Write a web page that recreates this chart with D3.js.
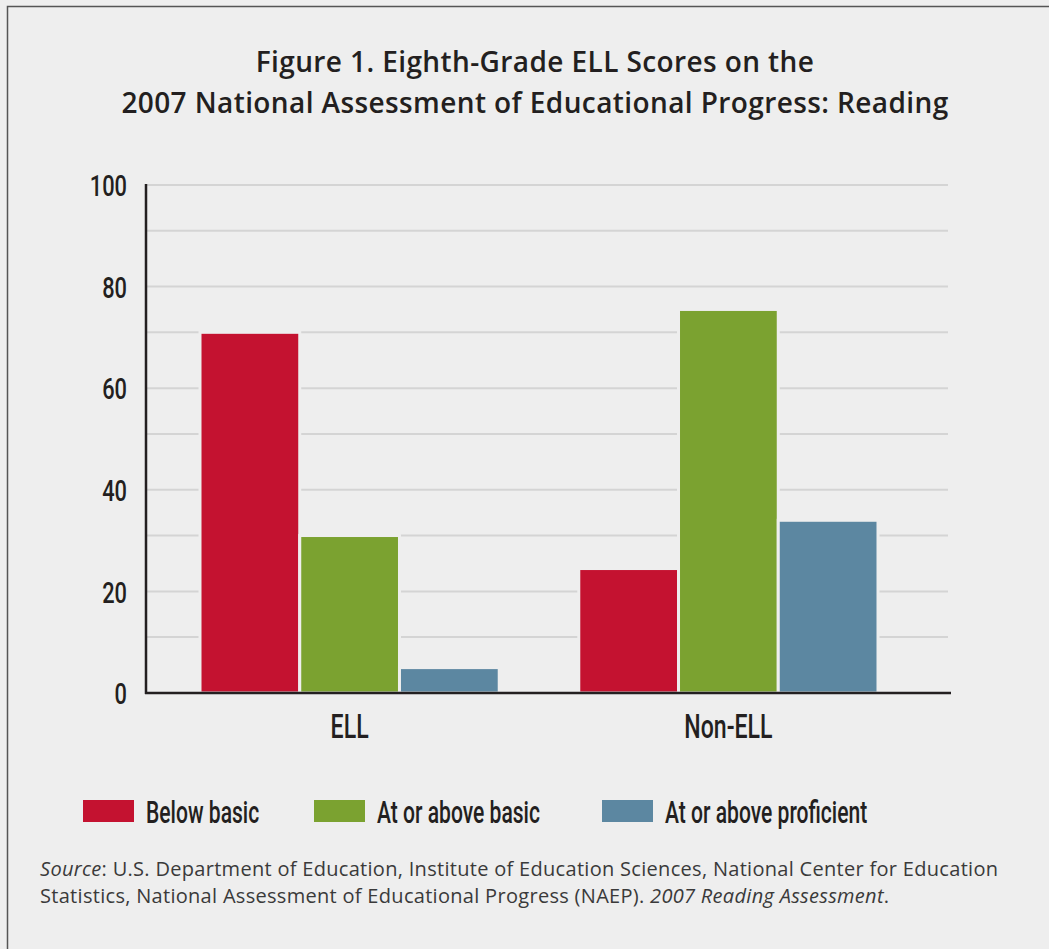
<!DOCTYPE html>
<html>
<head>
<meta charset="utf-8">
<script src="https://cdn.jsdelivr.net/npm/d3@7"></script>
<style>
  html, body { margin: 0; padding: 0; background: #eeeeee; }
  svg { display: block; }
</style>
</head>
<body>
<svg id="graph"></svg>
<script>
// data
var groups = ["ELL", "Non-ELL"];
var levels = ["Below basic", "At or above basic", "At or above proficient"];
var belowBasic = [71, 24.5];
var atBasic = [31, 75.5];
var atProficient = [5, 34];
var yTicks = [0, 20, 40, 60, 80, 100];
var gridValues = [11, 20, 31, 40, 51, 60, 71, 80, 91, 100];
var colors = ["#c41230", "#7ba230", "#5c87a1"];

var w = 1049, h = 949;
var svg = d3.select("#graph").attr("width", w).attr("height", h);

// frame
svg.append("rect").attr("width", w).attr("height", h).attr("fill", "#eeeeee");
svg.append("path")
    .attr("d", "M7.5," + h + " V6.5 H" + w)
    .attr("fill", "none")
    .attr("stroke", "#555")
    .attr("stroke-width", 1.5);

// title
var title = svg.append("text")
    .attr("text-anchor", "middle")
    .attr("font-family", "'Open Sans', Lato, sans-serif")
    .attr("font-weight", 600)
    .attr("font-size", 28)
    .attr("letter-spacing", 0.4)
    .attr("fill", "#231f20");
title.append("tspan").attr("x", 535).attr("y", 72).text("Figure 1. Eighth-Grade ELL Scores on the");
title.append("tspan").attr("x", 535).attr("y", 113).text("2007 National Assessment of Educational Progress: Reading");

// condensed look: Roboto squeezed horizontally
var narrow = "Roboto, 'DejaVu Sans', sans-serif";
var squeeze = 0.68;

var y = d3.scaleLinear().domain([0, 100]).range([693, 185]);
var x0 = d3.scaleBand().domain(groups).range([200, 878]).paddingInner(0.21);
var x1 = d3.scaleBand().domain(levels).range([0, x0.bandwidth()]);

// gridlines
svg.append("g").selectAll("line")
    .data(gridValues)
    .enter().append("line")
    .attr("x1", 146).attr("x2", 948)
    .attr("y1", function(d){ return y(d); })
    .attr("y2", function(d){ return y(d); })
    .attr("stroke", "#d4d4d4")
    .attr("stroke-width", 2);

// bars
var rows = groups.map(function(g, i){
    return { group: g, values: [belowBasic[i], atBasic[i], atProficient[i]] };
});

svg.append("g").selectAll("g")
    .data(rows)
    .enter().append("g")
    .attr("transform", function(d){ return "translate(" + x0(d.group) + ",0)"; })
    .selectAll("rect")
    .data(function(d){ return d.values.map(function(v, i){ return { level: levels[i], value: v, i: i }; }); })
    .enter().append("rect")
    .attr("x", function(d){ return x1(d.level); })
    .attr("y", function(d){ return y(d.value); })
    .attr("width", x1.bandwidth())
    .attr("height", function(d){ return y(0) - y(d.value); })
    .attr("fill", function(d){ return colors[d.i]; })
    .attr("stroke", "#eeeeee")
    .attr("stroke-width", 3);

// y axis
var tickSqueeze = 0.74;
var axisY = d3.axisLeft(y).tickValues(yTicks).tickSize(0).tickPadding(19);
var gy = svg.append("g").attr("transform", "translate(146,0)").call(axisY);
gy.select(".domain").remove();
gy.selectAll("text")
    .attr("font-family", narrow)
    .attr("font-weight", 500)
    .attr("font-size", 29.5)
    .attr("fill", "#231f20")
    .attr("x", -19 / tickSqueeze)
    .attr("dy", "0.36em")
    .attr("transform", "scale(" + tickSqueeze + ",1)");

// axis lines
svg.append("line").attr("x1", 146).attr("x2", 146).attr("y1", 184).attr("y2", 694)
    .attr("stroke", "#231f20").attr("stroke-width", 2.5);
svg.append("line").attr("x1", 145).attr("x2", 951).attr("y1", 693).attr("y2", 693)
    .attr("stroke", "#231f20").attr("stroke-width", 2.5);

// category labels
svg.append("g").selectAll("text")
    .data(groups)
    .enter().append("text")
    .attr("transform", function(d){ return "translate(" + (x0(d) + x0.bandwidth() / 2) + ",738) scale(" + squeeze + ",1)"; })
    .attr("text-anchor", "middle")
    .attr("font-family", narrow)
    .attr("font-weight", 500)
    .attr("font-size", 34)
    .attr("fill", "#231f20")
    .text(function(d){ return d; });

// legend
var legendX = [83, 314, 602];
var legend = svg.append("g").selectAll("g")
    .data(levels)
    .enter().append("g")
    .attr("transform", function(d, i){ return "translate(" + legendX[i] + ",800)"; });
legend.append("rect")
    .attr("width", 51).attr("height", 22)
    .attr("fill", function(d, i){ return colors[i]; });
legend.append("text")
    .attr("transform", "translate(63,23) scale(" + squeeze + ",1)")
    .attr("font-family", narrow)
    .attr("font-weight", 500)
    .attr("font-size", 31)
    .attr("fill", "#231f20")
    .text(function(d){ return d; });

// source
var src = svg.append("text")
    .attr("font-family", "'Open Sans', Lato, sans-serif")
    .attr("font-size", 20)
    .attr("letter-spacing", 0.3)
    .attr("fill", "#3a3a3a");
var l1 = src.append("tspan").attr("x", 40).attr("y", 876);
l1.append("tspan").attr("font-style", "italic").text("Source");
l1.append("tspan").text(": U.S. Department of Education, Institute of Education Sciences, National Center for Education");
var l2 = src.append("tspan").attr("x", 40).attr("y", 903);
l2.append("tspan").text("Statistics, National Assessment of Educational Progress (NAEP). ");
l2.append("tspan").attr("font-style", "italic").text("2007 Reading Assessment");
l2.append("tspan").text(".");
</script>
</body>
</html>
